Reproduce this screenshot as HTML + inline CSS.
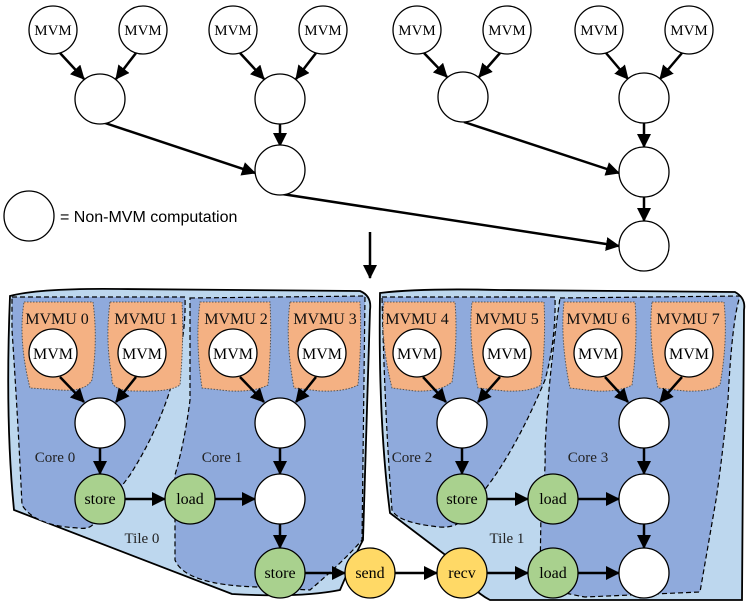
<!DOCTYPE html>
<html><head><meta charset="utf-8"><style>
html,body{margin:0;padding:0;background:#fff}
svg{display:block}
.s{font-family:"Liberation Serif",serif;}
</style></head><body>
<svg width="747" height="613" viewBox="0 0 747 613" xmlns="http://www.w3.org/2000/svg">
<defs>
<marker id="b" markerWidth="14" markerHeight="14" refX="13" refY="7" orient="auto" markerUnits="userSpaceOnUse">
<path d="M0,0 L14,7 L0,14 z" fill="#000"/></marker>
</defs>

<!-- TOP GRAPH -->
<g stroke="#000" stroke-width="2.5" fill="none" marker-end="url(#b)">
<line x1="60" y1="53" x2="84" y2="79"/><line x1="136" y1="53" x2="116" y2="79"/>
<line x1="240" y1="53" x2="264" y2="79"/><line x1="316" y1="53" x2="296" y2="79"/>
<line x1="424" y1="53" x2="447" y2="77"/><line x1="500" y1="53" x2="479" y2="77"/>
<line x1="606" y1="53" x2="628" y2="79"/><line x1="682" y1="53" x2="660" y2="79"/>
<line x1="280" y1="123" x2="280" y2="146"/>
<line x1="644" y1="123" x2="644" y2="147"/>
<line x1="644" y1="197" x2="644" y2="221"/>
<line x1="102" y1="122" x2="255" y2="173"/>
<line x1="464" y1="122" x2="619" y2="173"/>
<line x1="282" y1="194" x2="619" y2="246"/>
<line x1="370" y1="232" x2="370" y2="278"/>
</g>
<g stroke="#000" stroke-width="1.3" fill="#fff">
<circle cx="53" cy="30" r="24"/><circle cx="143" cy="30" r="24"/><circle cx="233" cy="30" r="24"/><circle cx="323" cy="30" r="24"/>
<circle cx="417" cy="30" r="24"/><circle cx="507" cy="30" r="24"/><circle cx="599" cy="30" r="24"/><circle cx="689" cy="30" r="24"/>
<circle cx="100" cy="99" r="25"/><circle cx="280" cy="99" r="25"/><circle cx="463" cy="97" r="25"/><circle cx="644" cy="98" r="25"/>
<circle cx="280" cy="170" r="25"/><circle cx="644" cy="172" r="25"/><circle cx="644" cy="246" r="25"/>
<circle cx="29" cy="216" r="25"/>
</g>
<g class="s" font-size="15" text-anchor="middle">
<text x="53" y="35">MVM</text><text x="143" y="35">MVM</text><text x="233" y="35">MVM</text><text x="323" y="35">MVM</text>
<text x="417" y="35">MVM</text><text x="507" y="35">MVM</text><text x="599" y="35">MVM</text><text x="689" y="35">MVM</text>
</g>
<text x="60" y="222" font-family="Liberation Sans,sans-serif" font-size="16">= Non-MVM computation</text>

<!-- TILES -->
<g stroke="#000" stroke-width="1.8" fill="#bdd7ee">
<path d="M10,296 Q40,288 120,289 L360,291 Q372,296 370,310 L363,540 Q355,555 340,590 Q300,598 232,594 L14,510 Q5,420 10,296 z"/>
<path d="M380,293 Q420,288 500,290 L735,292 Q746,298 744,310 L742,600 L490,600 Q470,590 452,560 L390,513 Q378,420 380,293 z"/>
</g>
<g stroke="#000" stroke-width="1.2" stroke-dasharray="5,3" fill="#8faadc">
<path d="M12,297 L185,297 Q186,330 178,360 Q165,420 130,475 L95,522 Q90,530 78,528 Q35,526 22,505 Q18,420 12,330 z"/>
<path d="M190,298 L365,296 L362,540 Q345,560 310,590 Q270,588 258,587 Q185,585 175,560 L175,475 Q185,440 190,400 z"/>
<path d="M382,297 L555,297 Q556,340 545,380 Q520,440 492,480 L462,520 Q455,528 440,527 Q398,523 392,510 Q385,420 382,297 z"/>
<path d="M560,298 L740,296 Q732,320 728,400 Q722,460 716,500 L700,592 L585,597 Q545,590 540,580 L541,510 Q546,470 545,450 Q548,380 560,298 z"/>
</g>
<g stroke="#555" stroke-width="1" stroke-dasharray="1.5,1.5" fill="#f4b183">
<path d="M24,302 L93,302 Q98,340 92,380 Q85,392 60,390 L30,388 Q18,340 24,302 z"/>
<path d="M110,302 L182,302 Q184,340 180,385 Q170,392 140,391 Q110,392 112,378 Q105,340 110,302 z"/>
<path d="M200,302 L270,302 Q272,340 268,385 Q255,392 230,391 L202,388 Q195,340 200,302 z"/>
<path d="M290,302 L360,302 Q362,340 358,385 Q345,392 320,391 L294,388 Q285,340 290,302 z"/>
<path d="M384,302 L455,302 Q458,340 452,382 Q440,392 415,391 L392,388 Q380,340 384,302 z"/>
<path d="M472,302 L544,302 Q546,340 541,385 Q530,392 505,391 L478,388 Q468,340 472,302 z"/>
<path d="M564,302 L635,302 Q638,340 632,385 Q620,392 595,391 L570,388 Q560,340 564,302 z"/>
<path d="M652,302 L724,302 Q728,340 720,385 Q710,392 685,391 L658,388 Q648,340 652,302 z"/>
</g>
<g class="s" font-size="16" text-anchor="middle" fill="#111">
<text x="57" y="324">MVMU 0</text><text x="146" y="324">MVMU 1</text><text x="236" y="324">MVMU 2</text><text x="325" y="324">MVMU 3</text>
<text x="417" y="324">MVMU 4</text><text x="507" y="324">MVMU 5</text><text x="598" y="324">MVMU 6</text><text x="688" y="324">MVMU 7</text>
</g>
<g class="s" font-size="15" text-anchor="middle" fill="#222">
<text x="55" y="462">Core 0</text><text x="222" y="462">Core 1</text><text x="412" y="462">Core 2</text><text x="588" y="462">Core 3</text>
<text x="142" y="543">Tile 0</text><text x="507" y="543">Tile 1</text>
</g>

<!-- bottom arrows -->
<g stroke="#000" stroke-width="2.5" fill="none" marker-end="url(#b)">
<line x1="60" y1="377" x2="84" y2="402"/><line x1="136" y1="377" x2="116" y2="402"/>
<line x1="240" y1="377" x2="264" y2="402"/><line x1="316" y1="377" x2="296" y2="402"/>
<line x1="423" y1="377" x2="446" y2="402"/><line x1="500" y1="377" x2="478" y2="402"/>
<line x1="605" y1="377" x2="628" y2="402"/><line x1="682" y1="377" x2="660" y2="402"/>
<line x1="100" y1="448" x2="100" y2="474"/><line x1="280" y1="448" x2="280" y2="474"/>
<line x1="462" y1="448" x2="462" y2="474"/><line x1="644" y1="448" x2="644" y2="474"/>
<line x1="280" y1="524" x2="280" y2="548"/><line x1="644" y1="524" x2="644" y2="548"/>
<line x1="125" y1="499" x2="165" y2="499"/><line x1="215" y1="499" x2="255" y2="499"/>
<line x1="487" y1="499" x2="528" y2="499"/><line x1="578" y1="499" x2="619" y2="499"/>
<line x1="305" y1="573" x2="345" y2="573"/><line x1="395" y1="573" x2="437" y2="573"/>
<line x1="487" y1="573" x2="528" y2="573"/><line x1="578" y1="573" x2="619" y2="573"/>
</g>
<g stroke="#000" stroke-width="1.3">
<g fill="#fff">
<circle cx="53" cy="353" r="24"/><circle cx="142" cy="353" r="24"/><circle cx="233" cy="353" r="24"/><circle cx="322" cy="353" r="24"/>
<circle cx="417" cy="353" r="24"/><circle cx="507" cy="353" r="24"/><circle cx="598" cy="353" r="24"/><circle cx="689" cy="353" r="24"/>
<circle cx="100" cy="423" r="25"/><circle cx="280" cy="423" r="25"/><circle cx="462" cy="423" r="25"/><circle cx="644" cy="423" r="25"/>
<circle cx="280" cy="499" r="25"/><circle cx="644" cy="499" r="25"/><circle cx="644" cy="573" r="25"/>
</g>
<g fill="#a9d18e">
<circle cx="100" cy="499" r="25"/><circle cx="190" cy="499" r="25"/><circle cx="280" cy="573" r="25"/>
<circle cx="462" cy="499" r="25"/><circle cx="553" cy="499" r="25"/><circle cx="553" cy="573" r="25"/>
</g>
<g fill="#ffd966"><circle cx="370" cy="573" r="25"/><circle cx="462" cy="573" r="25"/></g>
</g>
<g class="s" font-size="16" text-anchor="middle">
<text x="53" y="359">MVM</text><text x="142" y="359">MVM</text><text x="233" y="359">MVM</text><text x="322" y="359">MVM</text>
<text x="417" y="359">MVM</text><text x="507" y="359">MVM</text><text x="598" y="359">MVM</text><text x="689" y="359">MVM</text>
<text x="100" y="504">store</text><text x="190" y="504">load</text><text x="280" y="578">store</text>
<text x="462" y="504">store</text><text x="553" y="504">load</text><text x="553" y="578">load</text>
<text x="370" y="578">send</text><text x="462" y="578">recv</text>
</g>
</svg>
</body></html>
